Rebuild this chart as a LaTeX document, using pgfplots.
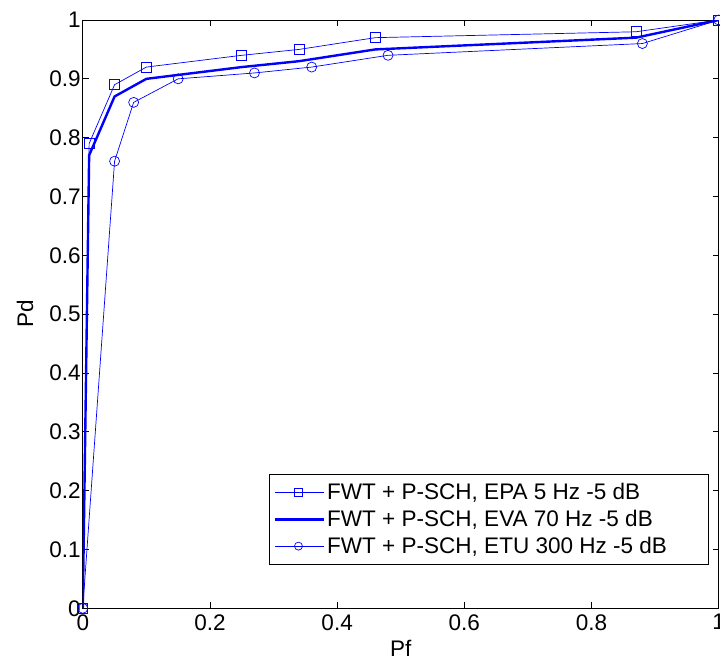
\documentclass[border=0pt]{standalone}
\usepackage{pgfplots}
\pgfplotsset{compat=1.18}
\usepackage{fontspec}
\setmainfont{Liberation Sans}
\begin{document}
\begin{tikzpicture}
\begin{axis}[
  name=main,
  scale only axis,
  width=635.3pt, height=587.7pt,
  xmin=0, xmax=1, ymin=0, ymax=1,
  xtick={0,0.2,0.4,0.6,0.8,1}, ytick={0,0.1,0.2,0.3,0.4,0.5,0.6,0.7,0.8,0.9,1},
  xticklabels={0,0.2,0.4,0.6,0.8,1},
  yticklabels={0,0.1,0.2,0.3,0.4,0.5,0.6,0.7,0.8,0.9,1},
  tick align=inside, tick pos=both,
  major tick length=6pt,
  tick style={black, line width=0.7pt},
  axis line style={black, line width=0.9pt},
  ticklabel style={font=\fontsize{22.5}{26}\selectfont},
  xticklabel style={yshift=-2.5pt},
  yticklabel style={xshift=1.5pt},
  /pgf/number format/assume math mode=true,
  xlabel={Pf}, ylabel={Pd},
  label style={font=\fontsize{22.5}{26}\selectfont},
  xlabel style={at={(axis description cs:0.5,-0.0685)}, anchor=center},
  ylabel style={at={(axis description cs:-0.0908,0.5)}, anchor=center},
  legend style={at={(0.2933,0.0744)}, anchor=south west, draw=black, line width=0.9pt,
    font=\fontsize{22.5}{26}\selectfont, inner xsep=4pt, inner ysep=7pt, row sep=5pt,
    cells={anchor=west}},
  legend cell align=left,
  legend image code/.code={\draw[mark repeat=2, mark phase=2, #1, mark size=4pt] plot coordinates {(0pt,0pt) (23.5pt,0pt) (47pt,0pt)};\path (0pt,0pt) -- (49pt,0pt);},
]
\addplot[blue, line width=0.7pt, mark=square, mark size=5pt, mark options={line width=0.7pt, solid}]
coordinates {(0,0) (0.01,0.79) (0.05,0.89) (0.1,0.92) (0.25,0.94) (0.34,0.95) (0.46,0.97) (0.87,0.98) (1,1)};
\addlegendentry{FWT + P-SCH, EPA 5 Hz -5 dB}
\addplot[blue, line width=2.4pt, no marks]
coordinates {(0,0) (0.01,0.77) (0.05,0.87) (0.1,0.90) (0.25,0.92) (0.34,0.93) (0.46,0.95) (0.87,0.97) (1,1)};
\addlegendentry{FWT + P-SCH, EVA 70 Hz -5 dB}
\addplot[blue, line width=0.7pt, mark=o, mark size=5pt, mark options={line width=0.7pt, solid}]
coordinates {(0,0) (0.05,0.76) (0.08,0.86) (0.15,0.90) (0.27,0.91) (0.36,0.92) (0.48,0.94) (0.88,0.96) (1,1)};
\addlegendentry{FWT + P-SCH, ETU 300 Hz -5 dB\hspace*{35pt}}
\end{axis}
\pgfresetboundingbox
\path[use as bounding box] ([shift={(-82.7pt,-52.3pt)}]main.south west) rectangle ([shift={(1.3pt,20pt)}]main.north east);
\end{tikzpicture}
\end{document}
